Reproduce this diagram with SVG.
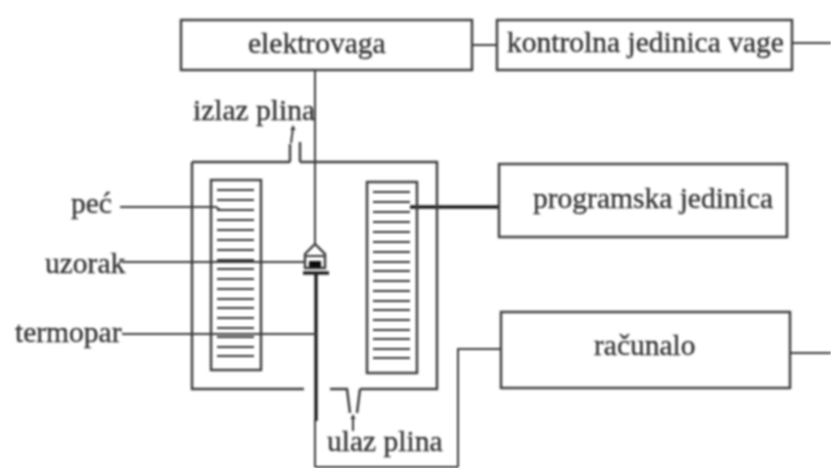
<svg xmlns="http://www.w3.org/2000/svg" width="831" height="468" viewBox="0 0 831 468">
<style>
.l{fill:none;stroke:#3a3a3a;stroke-width:2}
.t{fill:none;stroke:#1c1c1c;stroke-width:3.4}
.h{stroke:#333;stroke-width:2}
.b{fill:none;stroke:#3a3a3a;stroke-width:2.4}
text{font-family:"Liberation Serif",serif;font-size:29.5px;fill:#333;stroke:#333;stroke-width:0.35}
</style>
<defs>
<filter id="s" x="-5%" y="-5%" width="110%" height="110%"><feGaussianBlur stdDeviation="0.8"/></filter>
<g id="hl">
<path class="h" d="M0 0h37M0 10h37M0 20h37M0 30h37M0 40h37M0 50h37M0 60h37M0 70h37M0 79h37M0 89h37M0 99h37M0 109h37M0 118h37M0 128h37M0 138h37M0 147h37M0 157h37M0 166h37"/>
</g>
</defs>
<rect width="831" height="468" fill="#fff"/>
<g filter="url(#s)">
<g id="connectors">
<path class="l" d="M472 45H497M792 43H831M790 353H831M501 349H458V467M315 467H458"/>
<path class="l" d="M315 70V245M315 420V467"/>
<path class="t" d="M316 272V421M410 207H499"/>
<path class="l" d="M120 207H216L220 210M122 262H304M122 334H316"/>
<path class="l" d="M291 143L293 128"/>
<path d="M293 125l-2.500 5h5z" fill="#333"/>
<path d="M353 414l-2.500 5h5z" fill="#333"/>
<path class="l" d="M353 417V431"/>
</g>
<g id="furnace">
<path class="b" d="M290 162V144M300 162V142M192 162H290M300 162H437V389H360M304 389H192V162M330 389H347L350 413M360 389L357 413"/>
</g>
<g id="heater-left">
<rect class="b" x="211" y="180" width="50" height="190"/>
<use href="#hl" x="217" y="190"/>
</g>
<g id="heater-right">
<rect class="b" x="367" y="182" width="50" height="191"/>
<use href="#hl" x="373" y="192"/>
</g>
<g id="sample">
<path class="b" d="M305 254L315 244L325 254V268H305Z"/>
<path class="l" d="M305 256H325"/>
<rect x="309" y="261" width="12" height="7" fill="#111"/>
<path class="t" d="M303 273H329"/>
</g>
<g id="elektrovaga"><rect class="b" x="181" y="20" width="291" height="50"/><text x="248" y="53">elektrovaga</text></g>
<g id="kontrolna"><rect class="b" x="497" y="20" width="295" height="50"/><text x="507" y="52">kontrolna jedinica vage</text></g>
<g id="programska"><rect class="b" x="499" y="164" width="288" height="73"/><text x="533" y="208">programska jedinica</text></g>
<g id="racunalo"><rect class="b" x="501" y="312" width="289" height="76"/><text x="594" y="355">računalo</text></g>
<g id="labels">
<text x="193" y="120">izlaz plina</text>
<text x="71" y="213">peć</text>
<text x="45" y="273">uzorak</text>
<text x="15" y="342">termopar</text>
<text x="327" y="451">ulaz plina</text>
</g>
</g>
</svg>
